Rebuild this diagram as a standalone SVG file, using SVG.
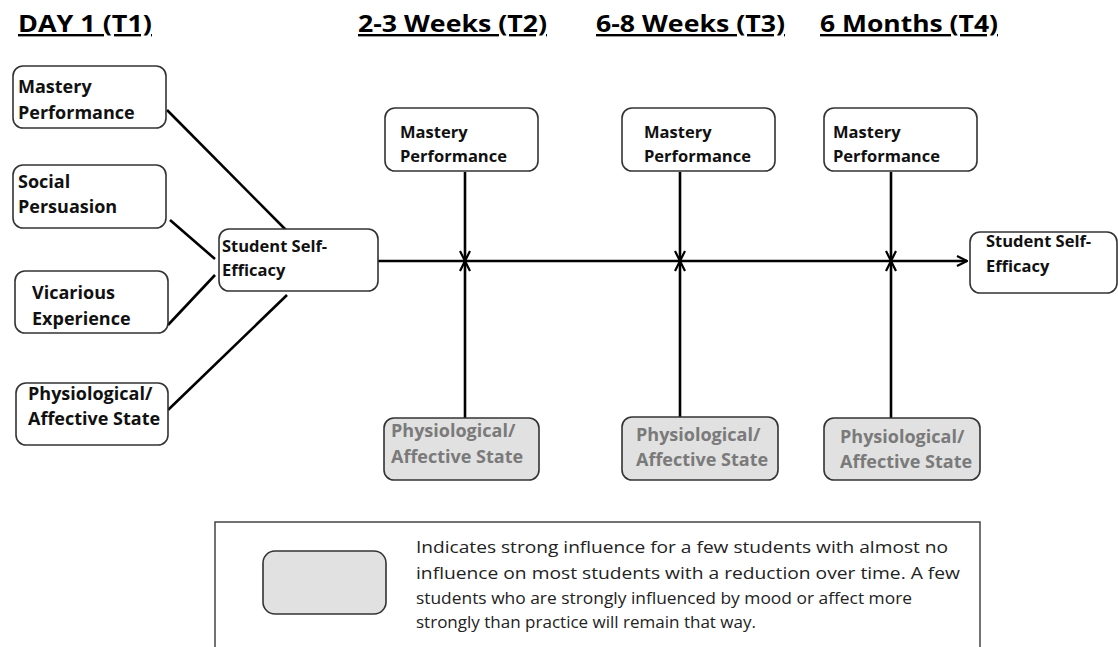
<svg xmlns="http://www.w3.org/2000/svg" width="1118" height="647" viewBox="0 0 1118 647">
<style>
.title{font-family:"Open Sans","Liberation Sans",sans-serif;font-weight:bold;font-size:24px;fill:#000;text-decoration:underline}
.lbl{font-family:"Open Sans","Liberation Sans",sans-serif;font-weight:bold;font-size:18px;fill:#111}
.lbs{font-family:"Open Sans","Liberation Sans",sans-serif;font-weight:bold;font-size:16.5px;fill:#111}
.gry{font-family:"Open Sans","Liberation Sans",sans-serif;font-weight:bold;font-size:18px;fill:#7a7a7a}
.leg{font-family:"Open Sans","Liberation Sans",sans-serif;font-size:17px;fill:#222}
.box{fill:#fff;stroke:#333;stroke-width:1.6}
.gbox{fill:#e1e1e1;stroke:#333;stroke-width:1.6}
.ln{stroke:#000;stroke-width:2.6;fill:none}
</style>
<defs>
<marker id="arr" viewBox="0 0 12 12" refX="11" refY="6" markerWidth="12" markerHeight="12" markerUnits="userSpaceOnUse" orient="auto">
<path d="M1,1 L11,6 L1,11" fill="none" stroke="#000" stroke-width="2.2"/>
</marker>
</defs>
<rect width="1118" height="647" fill="#fff"/>
<g id="titles">
<text class="title" x="18" y="32" textLength="134" lengthAdjust="spacingAndGlyphs">DAY 1 (T1)</text>
<text class="title" x="358" y="32" textLength="189" lengthAdjust="spacingAndGlyphs">2-3 Weeks (T2)</text>
<text class="title" x="596" y="32" textLength="189" lengthAdjust="spacingAndGlyphs">6-8 Weeks (T3)</text>
<text class="title" x="820" y="32" textLength="178" lengthAdjust="spacingAndGlyphs">6 Months (T4)</text>
</g>
<g id="connectors">
<line class="ln" x1="167" y1="110" x2="287" y2="231"/>
<line class="ln" x1="170" y1="220" x2="215" y2="259"/>
<line class="ln" x1="168" y1="325" x2="215" y2="275"/>
<line class="ln" x1="168" y1="410" x2="287" y2="295"/>
<line class="ln" x1="378" y1="261" x2="967" y2="261" marker-end="url(#arr)"/>
<line class="ln" x1="465" y1="172" x2="465" y2="261" marker-end="url(#arr)"/>
<line class="ln" x1="465" y1="418" x2="465" y2="261" marker-end="url(#arr)"/>
<line class="ln" x1="680" y1="172" x2="680" y2="261" marker-end="url(#arr)"/>
<line class="ln" x1="680" y1="417" x2="680" y2="261" marker-end="url(#arr)"/>
<line class="ln" x1="891" y1="172" x2="891" y2="261" marker-end="url(#arr)"/>
<line class="ln" x1="891" y1="418" x2="891" y2="261" marker-end="url(#arr)"/>
</g>
<g id="n-mastery1">
<rect class="box" x="13" y="66" width="153" height="62" rx="10"/>
<text class="lbl" x="18" y="93">Mastery</text>
<text class="lbl" x="18" y="119">Performance</text>
</g>
<g id="n-social1">
<rect class="box" x="13" y="165" width="153" height="63" rx="10"/>
<text class="lbl" x="18" y="188">Social</text>
<text class="lbl" x="18" y="213">Persuasion</text>
</g>
<g id="n-vicarious1">
<rect class="box" x="15" y="271" width="153" height="62" rx="10"/>
<text class="lbl" x="32" y="299">Vicarious</text>
<text class="lbl" x="32" y="325">Experience</text>
</g>
<g id="n-physio1">
<rect class="box" x="16" y="383" width="152" height="62" rx="10"/>
<text class="lbl" x="28" y="400">Physiological/</text>
<text class="lbl" x="28" y="425">Affective State</text>
</g>
<g id="n-selfeff1">
<rect class="box" x="219" y="229" width="159" height="62" rx="10"/>
<text class="lbs" x="222" y="252">Student Self-</text>
<text class="lbs" x="222" y="276">Efficacy</text>
</g>
<g id="n-mastery2">
<rect class="box" x="385" y="108" width="153" height="63" rx="10"/>
<text class="lbs" x="400" y="138">Mastery</text>
<text class="lbs" x="400" y="162">Performance</text>
</g>
<g id="n-mastery3">
<rect class="box" x="622" y="108" width="153" height="63" rx="10"/>
<text class="lbs" x="644" y="138">Mastery</text>
<text class="lbs" x="644" y="162">Performance</text>
</g>
<g id="n-mastery4">
<rect class="box" x="824" y="108" width="153" height="63" rx="10"/>
<text class="lbs" x="833" y="138">Mastery</text>
<text class="lbs" x="833" y="162">Performance</text>
</g>
<g id="n-selfeff2">
<rect class="box" x="970" y="232" width="147" height="61" rx="10"/>
<text class="lbs" x="986" y="247">Student Self-</text>
<text class="lbs" x="986" y="272">Efficacy</text>
</g>
<g id="n-physio2">
<rect class="gbox" x="384" y="418" width="155" height="62" rx="10"/>
<text class="gry" x="391" y="437">Physiological/</text>
<text class="gry" x="391" y="463">Affective State</text>
</g>
<g id="n-physio3">
<rect class="gbox" x="622" y="417" width="156" height="63" rx="10"/>
<text class="gry" x="636" y="441">Physiological/</text>
<text class="gry" x="636" y="466">Affective State</text>
</g>
<g id="n-physio4">
<rect class="gbox" x="824" y="418" width="156" height="62" rx="10"/>
<text class="gry" x="840" y="443">Physiological/</text>
<text class="gry" x="840" y="468">Affective State</text>
</g>
<g id="legend">
<rect x="215" y="522" width="765" height="130" fill="#fff" stroke="#444" stroke-width="1.5"/>
<rect class="gbox" x="263" y="551" width="123" height="63" rx="12"/>
<text class="leg" x="416" y="553" textLength="532" lengthAdjust="spacingAndGlyphs">Indicates strong influence for a few students with almost no</text>
<text class="leg" x="416" y="579" textLength="544" lengthAdjust="spacingAndGlyphs">influence on most students with a reduction over time. A few</text>
<text class="leg" x="416" y="604" textLength="496" lengthAdjust="spacingAndGlyphs">students who are strongly influenced by mood or affect more</text>
<text class="leg" x="416" y="628" textLength="340" lengthAdjust="spacingAndGlyphs">strongly than practice will remain that way.</text>
</g>
</svg>
